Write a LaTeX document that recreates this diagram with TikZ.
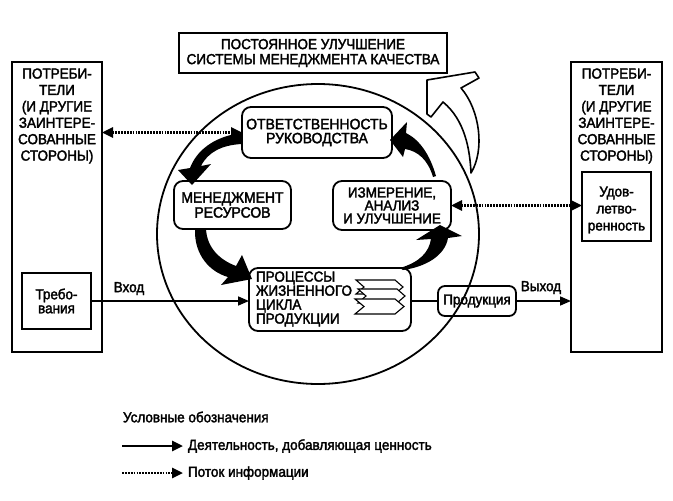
\documentclass[tikz,border=0pt]{standalone}
\usepackage{fontspec}
\setmainfont{Liberation Sans}[FakeStretch=0.93, RawFeature={embolden=2.2}]
\usetikzlibrary{arrows.meta,shapes.geometric}
\begin{document}
\begin{tikzpicture}[x=1pt,y=-1pt,
  every node/.style={font=\fontsize{14.5}{16.4}\selectfont, inner sep=0pt, outer sep=0pt},
  sqbox/.style={draw, line width=1.8pt, rectangle},
  rbox/.style={draw, line width=1.8pt, rectangle, rounded corners=9pt},
  flow/.style={line width=1.6pt, -{Triangle[length=11pt,width=9pt]}},
  plainline/.style={line width=1.6pt},
  info/.style={line width=2.6pt, dash pattern=on 1.8pt off 1.1pt, {Triangle[length=11pt,width=10pt]}-{Triangle[length=11pt,width=10pt]}},
  blk/.style={fill=black},
  hollow/.style={draw, fill=white, line width=1.6pt, line join=round},
  chev/.style={draw, fill=white, line width=1.1pt, line join=miter}
]
\useasboundingbox (0,0) rectangle (673,501);

% circle
\draw[line width=1.8pt] (318,234) ellipse [x radius=161pt, y radius=150pt];

% title
\node[sqbox, minimum width=268pt, minimum height=40pt, align=center,
  font=\fontsize{14.5}{15}\selectfont] (title) at (313,53)
  {ПОСТОЯННОЕ УЛУЧШЕНИЕ\\СИСТЕМЫ МЕНЕДЖМЕНТА КАЧЕСТВА};

% side boxes
\node[sqbox, minimum width=90pt, minimum height=290pt] (lbox) at (57,207) {};
\node[align=center] (ltxt) at (57,116) {ПОТРЕБИ-\\ТЕЛИ\\(И ДРУГИЕ\\ЗАИНТЕРЕ-\\СОВАННЫЕ\\СТОРОНЫ)};
\node[sqbox, minimum width=91pt, minimum height=290pt] (rbx) at (616.5,207) {};
\node[align=center] (rtxt) at (616.5,116) {ПОТРЕБИ-\\ТЕЛИ\\(И ДРУГИЕ\\ЗАИНТЕРЕ-\\СОВАННЫЕ\\СТОРОНЫ)};

\node[sqbox, minimum width=69pt, minimum height=56pt, align=center,
  font=\fontsize{14.5}{14}\selectfont] (req) at (56.5,301) {Требо-\\вания};
\node[sqbox, minimum width=69pt, minimum height=69pt] (sat) at (616.5,206.5) {};
\node[align=center, font=\fontsize{14.5}{17}\selectfont] (sattxt) at (616.5,210) {Удов-\\летво-\\ренность};

% inner boxes
\node[rbox, minimum width=150pt, minimum height=51pt, align=center,
  font=\fontsize{15}{14}\selectfont] (otv) at (317,132.5) {ОТВЕТСТВЕННОСТЬ\\РУКОВОДСТВА};
\node[rbox, minimum width=117pt, minimum height=48pt, align=center,
  font=\fontsize{15}{15}\selectfont] (men) at (232.5,205) {МЕНЕДЖМЕНТ\\РЕСУРСОВ};
\node[rbox, minimum width=118pt, minimum height=49pt, align=center,
  font=\fontsize{14.5}{13}\selectfont] (izm) at (392,205.5) {ИЗМЕРЕНИЕ,\\АНАЛИЗ\\И УЛУЧШЕНИЕ};
\node[rbox, minimum width=162pt, minimum height=63pt] (proc) at (330,299.5) {};
\node[anchor=west, align=left, font=\fontsize{14.5}{14}\selectfont] (proctxt) at (256,299)
  {ПРОЦЕССЫ\\ЖИЗНЕННОГО\\ЦИКЛА\\ПРОДУКЦИИ};
\node[rbox, rounded corners=7pt, minimum width=78pt, minimum height=30pt] (prod) at (477,301) {Продукция};

% chevrons
\path[chev] (356,280) -- (395,280) -- (403,287) -- (395,294) -- (356,294) -- (364,287) -- cycle;
\path[chev] (358,289) -- (397,289) -- (405,296) -- (397,303) -- (358,303) -- (366,296) -- cycle;
\path[chev] (355,299) -- (395,299) -- (404,306.5) -- (395,314) -- (355,314) -- (364,306.5) -- cycle;

% main flow
\draw[flow] (req.east) -- (req.east -| proc.west);
\draw[plainline] (proc.east |- prod.west) -- (prod.west);
\draw[flow] (prod.east) -- (prod.east -| rbx.west);
\node[anchor=south] (vhod) at (129,295) {Вход};
\node[anchor=south] (vyhod) at (541,294) {Выход};

% info flows
\draw[info] (otv.west -| lbox.east) -- (otv.west);
\draw[info] (izm.east) -- (izm.east -| sat.west);

% thick cycle arrows
\fill[blk] (241,133) .. controls (212,137) and (196,152) .. (190,168) -- (178,170) -- (192,185) -- (211,164) -- (201,166) .. controls (208,152) and (222,145) .. (242,144) -- cycle;
\fill[blk] (195,229) .. controls (194,255) and (210,272) .. (228,277) -- (221,285) -- (252,279) -- (242,255) -- (236,266) .. controls (220,260) and (207,248) .. (206,229) -- cycle;
\fill[blk] (400,268) .. controls (420,262) and (429,252) .. (431,239) -- (416,240) -- (440,225) -- (462,236) -- (448,238) .. controls (445,256) and (425,267) .. (403,270) -- cycle;
\fill[blk] (436,176) .. controls (430,155) and (420,140) .. (406,133) -- (407,122) -- (390,140) -- (403,157) -- (405,149) .. controls (418,151) and (428,160) .. (433,177) -- cycle;

% hollow improvement arrow
\path[hollow] (427,80) -- (475,72) -- (479,78) -- (461,88) .. controls (480,110) and (485,150) .. (471,173) .. controls (470,150) and (465,120) .. (443,102) -- (431,117) -- (427,114) -- cycle;

% legend
\node[anchor=west] (legt) at (123,417) {Условные обозначения};
\coordinate (l1a) at (122,446);
\coordinate (l1b) at (183,446);
\draw[line width=2.6pt, -{Triangle[length=11pt,width=10pt]}] (l1a) -- (l1b);
\node[anchor=west] (leg1) at (188,446) {Деятельность, добавляющая ценность};
\coordinate (l2a) at (122,473);
\coordinate (l2b) at (183,473);
\draw[line width=2.6pt, dash pattern=on 1.8pt off 1.1pt, -{Triangle[length=11pt,width=10pt]}] (l2a) -- (l2b);
\node[anchor=west] (leg2) at (188,473) {Поток информации};
\end{tikzpicture}
\end{document}
